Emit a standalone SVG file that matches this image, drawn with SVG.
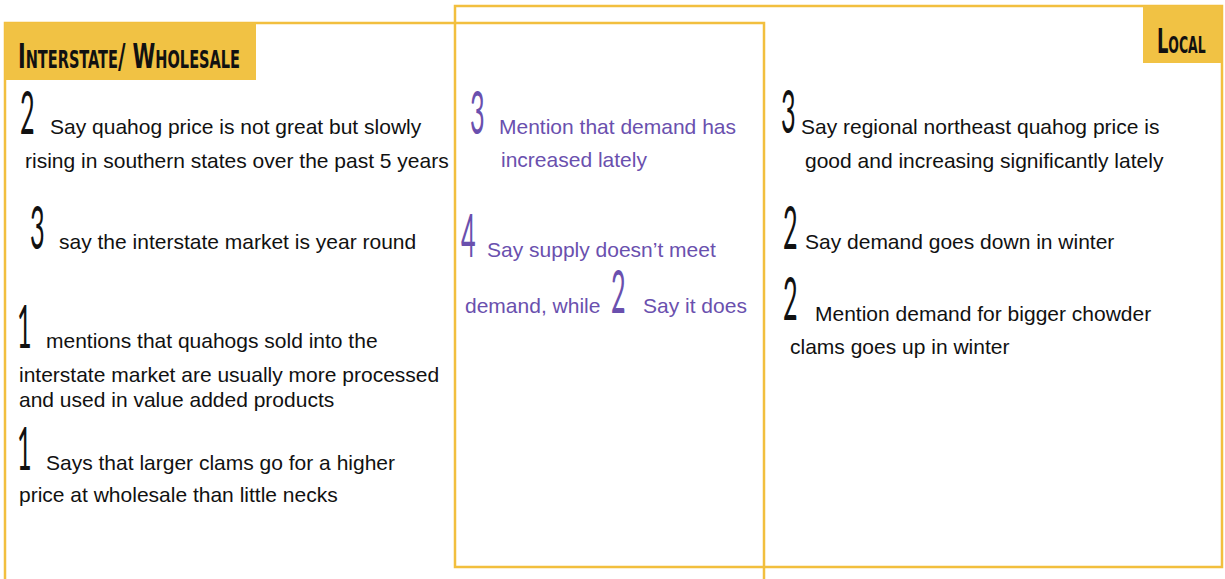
<svg xmlns="http://www.w3.org/2000/svg" width="1225" height="579" viewBox="0 0 1225 579">
<style>
.frame{fill:none;stroke:#F2BF3E;stroke-width:2.5}
.hdr{fill:#F1C244}
.ht{font-family:"DejaVu Sans Condensed","DejaVu Sans",sans-serif;font-variant:small-caps;font-weight:bold;fill:#111}
.t{font-family:"Liberation Sans",Arial,sans-serif;font-size:21px;fill:#111}
.p{fill:#6A50AE}
.n{font-family:"Lato","Inter",sans-serif;font-weight:400;font-size:60px;fill:#111}
.np{fill:#6A50AE}
</style>
<rect width="1225" height="579" fill="#fff"/>
<g id="frames">
<rect class="frame" x="5" y="23" width="759" height="580"/>
<rect class="frame" x="455" y="6" width="767" height="561"/>
</g>
<g id="header-interstate">
<rect class="hdr" x="5" y="23" width="251" height="57"/>
<text class="ht" x="18" y="68" font-size="34" textLength="222" lengthAdjust="spacingAndGlyphs">Interstate/ Wholesale</text>
</g>
<g id="header-local">
<rect class="hdr" x="1143" y="6" width="78" height="57"/>
<text class="ht" transform="translate(1157,53) scale(0.6,1)" font-size="33">Local</text>
</g>
<g id="interstate-items">
<text class="n" transform="translate(20,134) scale(0.42,1)">2</text>
<text class="t" x="50" y="134">Say quahog price is not great but slowly</text>
<text class="t" x="25" y="168">rising in southern states over the past 5 years</text>
<text class="n" transform="translate(30,249) scale(0.42,1)">3</text>
<text class="t" x="59" y="249">say the interstate market is year round</text>
<text class="n" transform="translate(17,348) scale(0.42,1)">1</text>
<text class="t" x="46" y="348">mentions that quahogs sold into the</text>
<text class="t" x="19" y="382">interstate market are usually more processed</text>
<text class="t" x="19" y="407">and used in value added products</text>
<text class="n" transform="translate(17,470) scale(0.42,1)">1</text>
<text class="t" x="46" y="470">Says that larger clams go for a higher</text>
<text class="t" x="19" y="502">price at wholesale than little necks</text>
</g>
<g id="shared-items">
<text class="n np" transform="translate(470,134) scale(0.42,1)">3</text>
<text class="t p" x="499" y="134">Mention that demand has</text>
<text class="t p" x="501" y="167">increased lately</text>
<text class="n np" transform="translate(461,257) scale(0.42,1)">4</text>
<text class="t p" x="487" y="257">Say supply doesn’t meet</text>
<text class="t p" x="465" y="313">demand, while</text>
<text class="n np" transform="translate(611,313) scale(0.42,1)">2</text>
<text class="t p" x="643" y="313">Say it does</text>
</g>
<g id="local-items">
<text class="n" transform="translate(781,133) scale(0.42,1)">3</text>
<text class="t" x="801" y="134">Say regional northeast quahog price is</text>
<text class="t" x="805" y="168">good and increasing significantly lately</text>
<text class="n" transform="translate(783,249) scale(0.42,1)">2</text>
<text class="t" x="805" y="249">Say demand goes down in winter</text>
<text class="n" transform="translate(783,320) scale(0.42,1)">2</text>
<text class="t" x="815" y="321">Mention demand for bigger chowder</text>
<text class="t" x="790" y="354">clams goes up in winter</text>
</g>
</svg>
